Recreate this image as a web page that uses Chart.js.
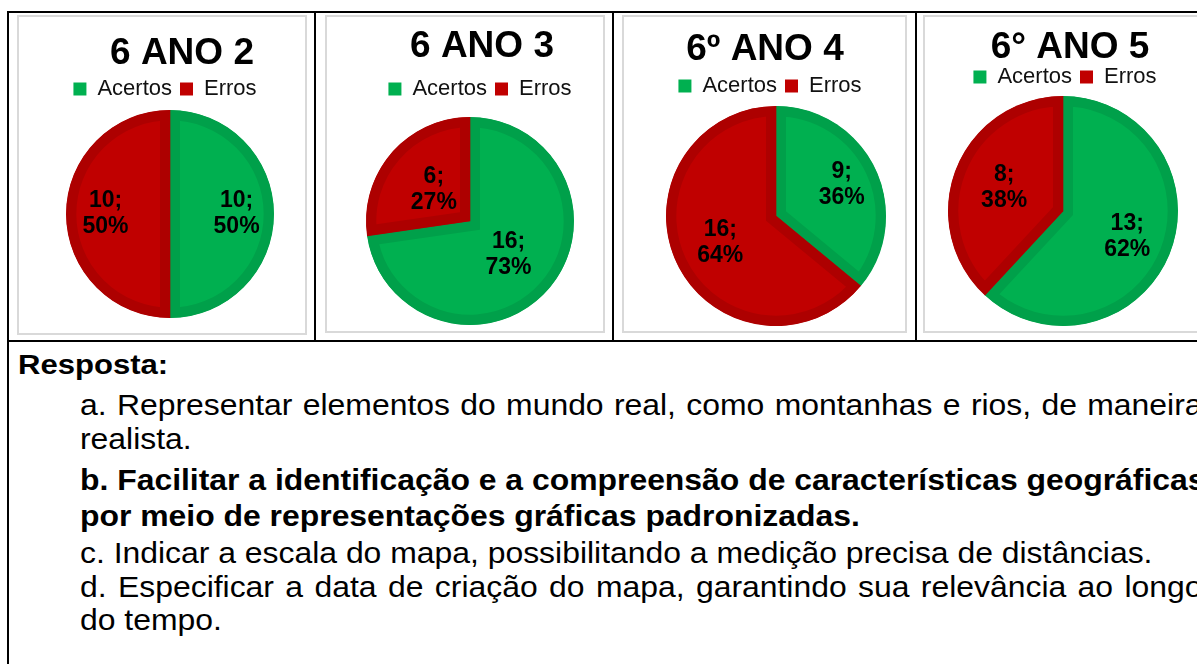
<!DOCTYPE html>
<html lang="pt">
<head>
<meta charset="UTF-8" />
<title>Acertos e Erros - 6º ano</title>
<script src="https://cdn.jsdelivr.net/npm/chart.js@4/dist/chart.umd.min.js"></script>
<style>
  html, body { margin: 0; padding: 0; background: #fff; }
  body { width: 1197px; height: 664px; overflow: hidden; position: relative; font-family: "Liberation Sans", Arial, sans-serif; color: #000; }
  .rule { position: absolute; background: #000; }
  .frame { position: absolute; border: 2px solid #d9d9d9; box-sizing: border-box; }
  canvas.pie { position: absolute; }
  .ln { position: absolute; left: 80px; font-size: 30px; line-height: 34px; white-space: nowrap; transform-origin: 0 0; transform: scaleX(1.063); }
  .ln.full { width: 1056px; text-align: justify; text-align-last: justify; }
  .ln b { font-weight: bold; }
  #resp { position: absolute; left: 18px; top: 350px; font-size: 27px; line-height: 30px; font-weight: bold; transform-origin: 0 0; transform: scaleX(1.15); }
</style>
</head>
<body>

<!-- table lines -->
<div class="rule" style="left:7px;top:11px;width:1200px;height:2px"></div>
<div class="rule" style="left:7px;top:11px;width:2px;height:660px"></div>
<div class="rule" style="left:314px;top:11px;width:2px;height:331px"></div>
<div class="rule" style="left:612px;top:11px;width:2px;height:331px"></div>
<div class="rule" style="left:915px;top:11px;width:2px;height:331px"></div>
<div class="rule" style="left:7px;top:340px;width:1200px;height:2px"></div>

<!-- chart frames -->
<div class="frame" style="left:17px;top:15px;width:290px;height:320px"></div>
<div class="frame" style="left:325px;top:15px;width:280px;height:318px"></div>
<div class="frame" style="left:622px;top:15px;width:285px;height:318px"></div>
<div class="frame" style="left:923px;top:15px;width:290px;height:318px"></div>

<canvas class="pie" id="c0"></canvas>
<canvas class="pie" id="c1"></canvas>
<canvas class="pie" id="c2"></canvas>
<canvas class="pie" id="c3"></canvas>

<div id="resp">Resposta:</div>
<div class="ln full" style="top:388px">a. Representar elementos do mundo real, como montanhas e rios, de maneira</div>
<div class="ln" style="top:422px">realista.</div>
<div class="ln full" style="top:463px"><b>b. Facilitar a identificação e a compreensão de características geográficas</b></div>
<div class="ln" style="top:499px"><b>por meio de representações gráficas padronizadas.</b></div>
<div class="ln" style="top:536px">c. Indicar a escala do mapa, possibilitando a medição precisa de distâncias.</div>
<div class="ln full" style="top:570px">d. Especificar a data de criação do mapa, garantindo sua relevância ao longo</div>
<div class="ln" style="top:603px">do tempo.</div>

<script>
// data
const categories = ['Acertos', 'Erros'];
const chartTitles = ['6 ANO 2', '6 ANO 3', '6º ANO 4', '6° ANO 5'];
const acertos = [10, 16, 9, 13];
const erros = [10, 6, 16, 8];

const fillColors = ['#00B050', '#C00000'];
const edgeColors = ['#00A04A', '#AD0000'];
const FONT = '"Liberation Sans", Arial, sans-serif';

// where each chart sits on the page (px)
const place = [
  { pieX: 170, pieY: 214, r: 104, titleX: 182, titleY: 54, legendX: 165, legendY: 89, dist: [0.64, 0.62] },
  { pieX: 470, pieY: 221, r: 104, titleX: 482, titleY: 47, legendX: 480, legendY: 89, dist: [0.49, 0.46] },
  { pieX: 776, pieY: 216, r: 110, titleX: 765, titleY: 50, legendX: 770, legendY: 86, dist: [0.66, 0.56] },
  { pieX: 1063, pieY: 211, r: 115, titleX: 1070, titleY: 48, legendX: 1065, legendY: 77, dist: [0.6, 0.55] }
];

const CANVAS_TOP = 15, CANVAS_H = 318, CANVAS_W = 280;
const TITLE_SIZE = 37, TITLE_LH = 0.9;
const LEG_SIZE = 22, LEG_PAD = 8;

// move title / legend sideways after layout
const shiftBlocks = {
  id: 'shiftBlocks',
  afterLayout(chart, args, opts) {
    if (chart.titleBlock) { chart.titleBlock.left += opts.titleDX; chart.titleBlock.right += opts.titleDX; }
    if (chart.legend) { chart.legend.left += opts.legendDX; chart.legend.right += opts.legendDX; }
  }
};

// "n;\npp%" labels inside the slices
const pieLabels = {
  id: 'pieLabels',
  afterDatasetsDraw(chart, args, opts) {
    const ctx = chart.ctx;
    const values = chart.data.datasets[0].data;
    const total = values.reduce((a, b) => a + b, 0);
    chart.getDatasetMeta(0).data.forEach((arc, i) => {
      const p = arc.getProps(['x', 'y', 'startAngle', 'endAngle', 'outerRadius'], true);
      const mid = (p.startAngle + p.endAngle) / 2;
      const d = p.outerRadius * opts.dist[i];
      const lx = p.x + Math.cos(mid) * d;
      const ly = p.y + Math.sin(mid) * d;
      ctx.save();
      ctx.font = 'bold 23px ' + FONT;
      ctx.fillStyle = '#000';
      ctx.textAlign = 'center';
      ctx.textBaseline = 'middle';
      ctx.fillText(values[i] + ';', lx, ly - 13);
      ctx.fillText(Math.round(values[i] / total * 100) + '%', lx, ly + 13);
      ctx.restore();
    });
  }
};

chartTitles.forEach((title, k) => {
  const pl = place[k];
  const canvas = document.getElementById('c' + k);
  canvas.style.left = (pl.pieX - CANVAS_W / 2) + 'px';
  canvas.style.top = CANVAS_TOP + 'px';
  canvas.style.width = CANVAS_W + 'px';
  canvas.style.height = CANVAS_H + 'px';
  canvas.width = CANVAS_W;
  canvas.height = CANVAS_H;

  const titleH = TITLE_SIZE * TITLE_LH;
  const padTop = (pl.titleY - CANVAS_TOP) - titleH / 2;
  const legendTop = (pl.legendY - CANVAS_TOP) - (LEG_PAD + LEG_SIZE / 2);
  const padBottom = legendTop - (padTop + titleH);
  const areaTop = legendTop + LEG_SIZE + LEG_PAD + 10;
  const areaBottom = 2 * (pl.pieY - CANVAS_TOP) - areaTop;

  new Chart(canvas, {
    type: 'pie',
    data: {
      labels: categories,
      datasets: [{
        data: [acertos[k], erros[k]],
        backgroundColor: fillColors,
        borderColor: edgeColors,
        borderWidth: 10,
        borderAlign: 'inner',
        borderJoinStyle: 'miter',
        hoverOffset: 0,
        hoverBorderWidth: 10,
        radius: pl.r
      }]
    },
    options: {
      responsive: false,
      animation: false,
      events: [],
      layout: { padding: { top: 0, left: 0, right: 0, bottom: CANVAS_H - areaBottom } },
      plugins: {
        title: {
          display: true,
          text: title,
          color: '#000',
          font: { family: FONT, size: TITLE_SIZE, weight: 'bold', lineHeight: TITLE_LH },
          padding: { top: padTop, bottom: padBottom }
        },
        legend: {
          display: true,
          position: 'top',
          labels: {
            color: '#111',
            font: { family: FONT, size: LEG_SIZE },
            boxWidth: 13,
            boxHeight: 13,
            padding: LEG_PAD,
            // plain filled squares, no slice border around them
            generateLabels: (chart) => Chart.overrides.pie.plugins.legend.labels.generateLabels(chart)
              .map(item => Object.assign(item, { lineWidth: 0, strokeStyle: item.fillStyle }))
          }
        },
        tooltip: { enabled: false },
        shiftBlocks: { titleDX: pl.titleX - pl.pieX, legendDX: pl.legendX - pl.pieX },
        pieLabels: { dist: pl.dist }
      }
    },
    plugins: [shiftBlocks, pieLabels]
  });
});
</script>
</body>
</html>
